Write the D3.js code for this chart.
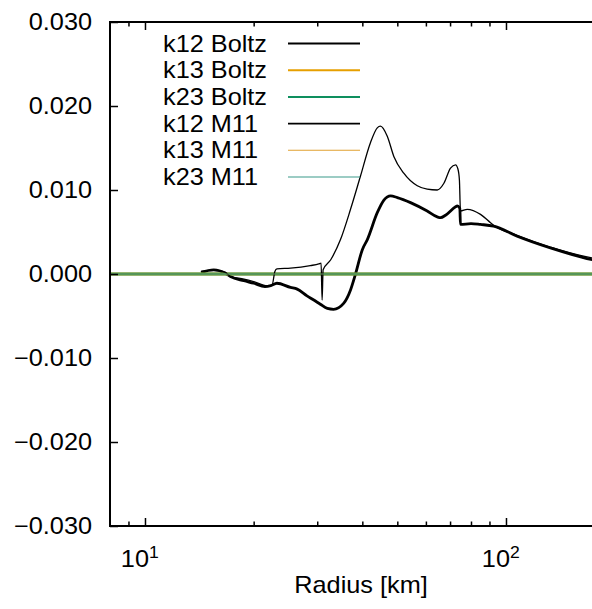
<!DOCTYPE html>
<html>
<head>
<meta charset="utf-8">
<script src="https://cdn.jsdelivr.net/npm/d3@7"></script>
<style>
  html, body { margin: 0; padding: 0; background: #fff; }
  svg { display: block; }
  text { font-family: "Liberation Sans", Arial, Helvetica, sans-serif; fill: #000; }
</style>
</head>
<body>
<svg id="chart" width="592" height="609"></svg>
<script>
// Radius grids [km] and mixing coefficients for each run
const rBoltz = [14.3, 15.5, 16.7, 17.25, 18.8, 20.0, 21.5, 22.3, 23.2, 25.3, 26.4, 28.1, 29.35, 30.6, 32.0, 33.3, 35.5, 37.1, 38.3, 40.0, 41.3, 44.0, 45.9, 47.9, 50.0, 54.4, 60.5, 64.5, 65.9, 68.0, 72.5, 73.3, 74.5, 74.8, 80, 85, 92.4, 107.4, 132.8, 173.6, 200];
const k12Boltz = [0.0002, 0.0005, 0.0001, -0.0003, -0.0008, -0.0011, -0.0015, -0.0014, -0.0011, -0.0016, -0.0018, -0.0026, -0.0031, -0.0036, -0.0041, -0.0042, -0.0035, -0.0019, 0.0, 0.0029, 0.0041, 0.0073, 0.0088, 0.0093, 0.0091, 0.0085, 0.0075, 0.0068, 0.0067, 0.0070, 0.0080, 0.0081, 0.0078, 0.0059, 0.0060, 0.0059, 0.0057, 0.0045, 0.0031, 0.0017, 0.0013];

const rM11 = [14.3, 15.5, 16.7, 17.25, 18.8, 20.0, 21.8, 22.5, 22.9, 23.2, 25.3, 28.7, 30.3, 30.75, 30.95, 31.15, 32.7, 34.8, 37.1, 39.5, 42.1, 44.0, 44.9, 46.9, 48.9, 52.1, 56.8, 60.5, 64.5, 67.3, 70.2, 72.5, 73.6, 74.3, 74.8, 78.1, 85, 90.6, 92.4, 107.4, 132.8, 173.6, 200];
const k12M11 = [0.0003, 0.0005, 0.0002, -0.0003, -0.0006, -0.0009, -0.0014, -0.0013, 0.0003, 0.0006, 0.0007, 0.0010, 0.0012, 0.0013, -0.0031, 0.0005, 0.0017, 0.0041, 0.0077, 0.0116, 0.0156, 0.0174, 0.0176, 0.0164, 0.0140, 0.0120, 0.0105, 0.0101, 0.0100, 0.0108, 0.0126, 0.0130, 0.0125, 0.0112, 0.0075, 0.0077, 0.0071, 0.0061, 0.0058, 0.0046, 0.0032, 0.0019, 0.0015];

// k13 and k23 stay at zero over the whole range
const rFull = [8, 200];
const k13Boltz = [0, 0];
const k23Boltz = [0, 0];
const k13M11 = [0, 0];
const k23M11 = [0, 0];

const yTicks = [0.03, 0.02, 0.01, 0.0, -0.01, -0.02, -0.03];
const xMajor = [10, 100];
const xMajorExp = ["1", "2"];
const xMinor = [9, 20, 30, 40, 50, 60, 70, 80, 90, 200];
const seriesNames = ["k12 Boltz", "k13 Boltz", "k23 Boltz", "k12 M11", "k13 M11", "k23 M11"];
const xTitle = "Radius [km]";

const series = [
  { name: seriesNames[0], r: rBoltz, v: k12Boltz, color: "#000000", width: 2.8, opacity: 1 },
  { name: seriesNames[1], r: rFull,  v: k13Boltz, color: "#E69F00", width: 3,   opacity: 1 },
  { name: seriesNames[2], r: rFull,  v: k23Boltz, color: "#0E8F5E", width: 3,   opacity: 0.8 },
  { name: seriesNames[3], r: rM11,   v: k12M11,   color: "#000000", width: 1.3, opacity: 1 },
  { name: seriesNames[4], r: rFull,  v: k13M11,   color: "#E0A030", width: 1.2, opacity: 0.5 },
  { name: seriesNames[5], r: rFull,  v: k23M11,   color: "#3A9A8A", width: 1.2, opacity: 0.6 }
];

const svg = d3.select("#chart");
const plotLeft = 110, plotTop = 22, plotBottom = 526;
const decade = 361;
const plotRight = plotLeft + decade * Math.log10(200 / 8);

const x = d3.scaleLog().domain([8, 200]).range([plotLeft, plotRight]);
const y = d3.scaleLinear().domain([-0.03, 0.03]).range([plotBottom, plotTop]);

const FS = 23, SX = 1.1;
function label(g, tx, ty, str, anchor, size) {
  return g.append("text")
    .attr("transform", `translate(${tx},${ty}) scale(${SX},1)`)
    .attr("text-anchor", anchor)
    .style("font-size", (size || FS) + "px")
    .text(str);
}

// clip for data curves
svg.append("defs").append("clipPath").attr("id", "plotclip")
  .append("rect").attr("x", plotLeft).attr("y", plotTop)
  .attr("width", plotRight - plotLeft).attr("height", plotBottom - plotTop);

const line = d3.line()
  .x(d => x(d[0]))
  .y(d => y(d[1]))
  .curve(d3.curveMonotoneX);

const plot = svg.append("g").attr("clip-path", "url(#plotclip)");
series.forEach(s => {
  plot.append("path")
    .datum(s.r.map((r, i) => [r, s.v[i]]))
    .attr("d", line)
    .attr("fill", "none")
    .attr("stroke", s.color)
    .attr("stroke-width", s.width)
    .attr("stroke-opacity", s.opacity)
    .attr("stroke-linejoin", "round");
});

// axes built with d3 axis generators, ticks pointing inward
const fmt = d3.format(".3f");
const yAxis = svg.append("g").attr("transform", `translate(${plotLeft},0)`)
  .call(d3.axisRight(y).tickValues(yTicks).tickSize(8).tickFormat(""));
const xBottomMajor = svg.append("g").attr("transform", `translate(0,${plotBottom})`)
  .call(d3.axisTop(x).tickValues(xMajor).tickSize(8).tickFormat(""));
const xBottomMinor = svg.append("g").attr("transform", `translate(0,${plotBottom})`)
  .call(d3.axisTop(x).tickValues(xMinor).tickSize(4.5).tickFormat(""));
const xTopMajor = svg.append("g").attr("transform", `translate(0,${plotTop})`)
  .call(d3.axisBottom(x).tickValues(xMajor).tickSize(8).tickFormat(""));
const xTopMinor = svg.append("g").attr("transform", `translate(0,${plotTop})`)
  .call(d3.axisBottom(x).tickValues(xMinor).tickSize(4.5).tickFormat(""));
[yAxis, xBottomMajor, xBottomMinor, xTopMajor, xTopMinor].forEach(g => {
  g.selectAll(".domain").remove();
  g.selectAll(".tick line").attr("stroke", "#000").attr("stroke-width", 1.5);
});

// frame
svg.append("path")
  .attr("d", `M${plotRight},${plotTop}H${plotLeft}V${plotBottom}H${plotRight}`)
  .attr("fill", "none").attr("stroke", "#000").attr("stroke-width", 2);

// y tick labels
const yl = svg.append("g");
yTicks.forEach(t => label(yl, 92, y(t) + 8, fmt(t), "end"));

// x tick labels: 10 with superscript exponent
const xl = svg.append("g");
xMajor.forEach((t, i) => {
  const cx = x(t);
  label(xl, cx + 4, 567, "10", "end");
  label(xl, cx + 4, 558, xMajorExp[i], "start", 16);
});

label(svg, 361, 593, xTitle, "middle");

// legend
const lg = svg.append("g");
series.forEach((s, i) => {
  const cy = 43.5 + 26.7 * i;
  label(lg, 163, cy + 8, s.name, "start");
  lg.append("line")
    .attr("x1", 288).attr("x2", 360).attr("y1", cy).attr("y2", cy)
    .attr("stroke", s.color)
    .attr("stroke-width", i < 3 ? 2 : (i === 3 ? 1.6 : 1.1));
});
</script>
</body>
</html>
